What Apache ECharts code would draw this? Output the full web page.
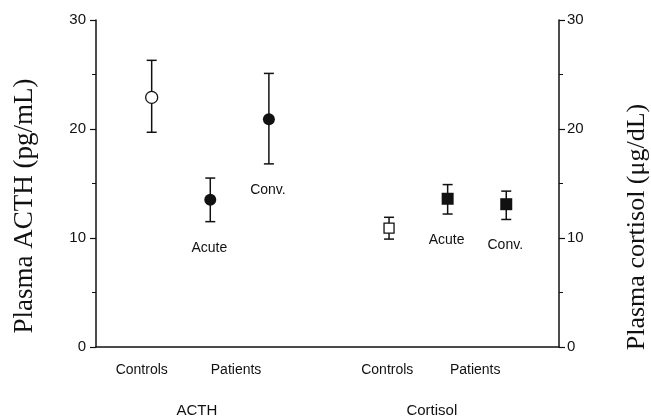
<!DOCTYPE html>
<html>
<head>
<meta charset="utf-8">
<script src="https://cdn.jsdelivr.net/npm/echarts@6/dist/echarts.min.js"></script>
<style>html,body{margin:0;padding:0;background:#fff}#c{width:651px;height:419px}</style>
</head>
<body>
<div id="c"></div>
<script>
// ---- data ----
const groups = ['ACTH', 'Cortisol'];
const pointNames = ['Controls', 'Acute', 'Conv.'];
const pointLabels = ['', 'Acute', 'Conv.'];
const categoryLabels = ['Controls', 'Patients', 'Controls', 'Patients'];
const axisNames = ['Plasma ACTH (pg/mL)', 'Plasma cortisol (μg/dL)'];
const acthX = [0.95, 1.95, 2.95];
const cortX = [5.0, 6.0, 7.0];
const acthMean = [22.9, 13.5, 20.9];
const acthLow = [19.7, 11.5, 16.8];
const acthHigh = [26.3, 15.5, 25.1];
const cortMean = [10.9, 13.6, 13.1];
const cortLow = [9.9, 12.2, 11.7];
const cortHigh = [11.9, 14.9, 14.3];

// ---- build ----
const INK = '#111';
const SANS = 'Liberation Sans, Arial, Helvetica, sans-serif';
const SERIF = 'Liberation Serif, Times New Roman, serif';
const catPos = [0.78, 2.39, 4.97, 6.47];
const groupPos = [1.72, 5.73];

function errData(xs, mean, low, high) {
  return xs.map((x, i) => [x, mean[i], low[i], high[i]]);
}
function renderErr(params, api) {
  const x = api.value(0);
  const lo = api.coord([x, api.value(2)]);
  const hi = api.coord([x, api.value(3)]);
  const label = pointLabels[params.dataIndex];
  const cap = 5;
  const children = [
    {type: 'line', shape: {x1: lo[0], y1: lo[1], x2: hi[0], y2: hi[1]}, style: {stroke: INK, lineWidth: 1.5}},
    {type: 'line', shape: {x1: hi[0] - cap, y1: hi[1], x2: hi[0] + cap, y2: hi[1]}, style: {stroke: INK, lineWidth: 1.5}},
    {type: 'line', shape: {x1: lo[0] - cap, y1: lo[1], x2: lo[0] + cap, y2: lo[1]}, style: {stroke: INK, lineWidth: 1.5}}
  ];
  if (label) {
    children.push({type: 'text', style: {text: label, x: lo[0] - 1, y: lo[1] + 19, align: 'center', verticalAlign: 'top',
      fill: INK, font: '14px ' + SANS}});
  }
  return {type: 'group', children};
}
function pts(xs, mean, idx) {
  return idx.map(i => [xs[i], mean[i]]);
}

const yAxisBase = {
  type: 'value', min: 0, max: 30, interval: 10,
  axisLine: {show: true, onZero: false, lineStyle: {color: INK, width: 1.5}},
  axisTick: {show: true, inside: false, length: 6, lineStyle: {color: INK, width: 1.2}},
  minorTick: {show: true, splitNumber: 2, length: 4, lineStyle: {color: INK, width: 1}},
  splitLine: {show: false},
  axisLabel: {color: INK, fontFamily: SANS, fontSize: 15, margin: 10}
};

const option = {
  backgroundColor: '#fff',
  animation: false,
  grid: {left: 96, right: 92, top: 20, bottom: 72, containLabel: false, outerBoundsMode: 'none'},
  xAxis: [
    {
      type: 'value', min: 0, max: 7.9, position: 'bottom',
      axisLine: {show: true, onZero: false, lineStyle: {color: INK, width: 1.5}},
      axisTick: {show: false},
      splitLine: {show: false},
      axisLabel: {
        color: INK, fontFamily: SANS, fontSize: 14, margin: 16,
        customValues: catPos,
        formatter: (v) => {
          const idx = catPos.indexOf(v);
          return idx >= 0 ? categoryLabels[idx] : '';
        }
      }
    },
    {
      type: 'value', min: 0, max: 7.9, position: 'bottom', offset: 40,
      axisLine: {show: false}, axisTick: {show: false}, splitLine: {show: false},
      axisLabel: {
        color: INK, fontFamily: SANS, fontSize: 15, margin: 16,
        customValues: groupPos,
        formatter: (v) => {
          const idx = groupPos.indexOf(v);
          return idx >= 0 ? groups[idx] : '';
        }
      }
    }
  ],
  yAxis: [
    Object.assign({}, yAxisBase, {position: 'left'}),
    Object.assign({}, yAxisBase, {position: 'right', axisLabel: Object.assign({}, yAxisBase.axisLabel, {margin: 8})})
  ],
  graphic: [
    {type: 'text', x: 25, y: 206, rotation: Math.PI / 2,
      style: {text: axisNames[0], font: '27px ' + SERIF, fill: INK, align: 'center', verticalAlign: 'middle'}},
    {type: 'text', x: 637, y: 227, rotation: Math.PI / 2,
      style: {text: axisNames[1], font: '26px ' + SERIF, fill: INK, align: 'center', verticalAlign: 'middle'}}
  ],
  series: [
    {type: 'custom', xAxisIndex: 0, yAxisIndex: 0, renderItem: renderErr, data: errData(acthX, acthMean, acthLow, acthHigh), z: 2},
    {type: 'custom', xAxisIndex: 0, yAxisIndex: 1, renderItem: renderErr, data: errData(cortX, cortMean, cortLow, cortHigh), z: 2},
    {type: 'scatter', name: 'ACTH ' + pointNames[0], xAxisIndex: 0, yAxisIndex: 0, symbol: 'circle', symbolSize: 12,
      itemStyle: {color: '#fff', borderColor: INK, borderWidth: 1.3, opacity: 1}, data: pts(acthX, acthMean, [0]), z: 3},
    {type: 'scatter', name: 'ACTH patients', xAxisIndex: 0, yAxisIndex: 0, symbol: 'circle', symbolSize: 12,
      itemStyle: {color: INK, opacity: 1}, data: pts(acthX, acthMean, [1, 2]), z: 3},
    {type: 'scatter', name: 'Cortisol ' + pointNames[0], xAxisIndex: 0, yAxisIndex: 1, symbol: 'rect', symbolSize: 10,
      itemStyle: {color: '#fff', borderColor: INK, borderWidth: 1.3, opacity: 1}, data: pts(cortX, cortMean, [0]), z: 3},
    {type: 'scatter', name: 'Cortisol patients', xAxisIndex: 0, yAxisIndex: 1, symbol: 'rect', symbolSize: 12,
      itemStyle: {color: INK, opacity: 1}, data: pts(cortX, cortMean, [1, 2]), z: 3}
  ]
};

const chart = echarts.init(document.getElementById('c'), null, {renderer: 'canvas'});
chart.setOption(option);
</script>
</body>
</html>
